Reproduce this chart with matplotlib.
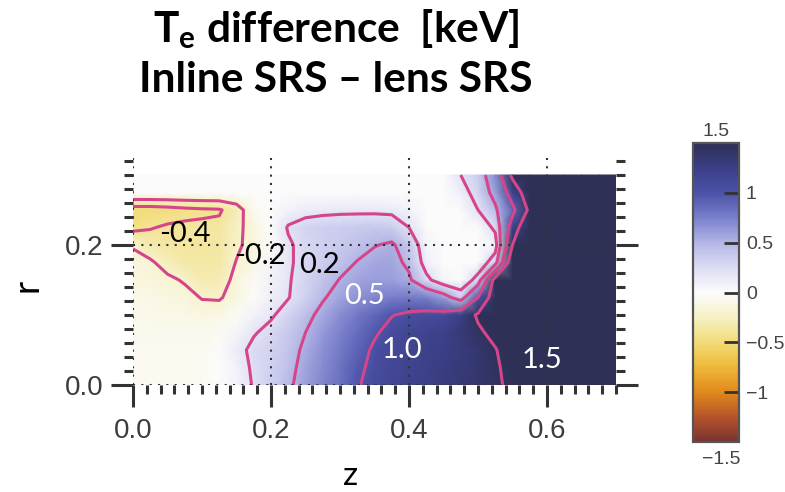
import numpy as np
import matplotlib.pyplot as plt
from matplotlib.colors import LinearSegmentedColormap, Normalize
from matplotlib.cm import ScalarMappable
from matplotlib.ticker import MultipleLocator, FormatStrFormatter

plt.rcParams['font.family'] = ['Liberation Sans', 'DejaVu Sans']
plt.rcParams['mathtext.fontset'] = 'custom'
plt.rcParams['mathtext.rm'] = 'Lato:bold'
plt.rcParams['mathtext.it'] = 'Lato:bold'
plt.rcParams['contour.negative_linestyle'] = 'solid'

# ---- mesh nodes ----
z_nodes = np.round(np.arange(0, 0.7001, 0.025), 3)   # 29 columns
r_nodes = np.round(np.arange(0, 0.3001, 0.025), 3)   # 13 rows

# ---- Te(inline) - Te(lens) [keV], one list per r row ----
te_r000 = [-0.05, -0.05, -0.05, -0.05, -0.04, -0.02, 0.06, 0.22, 0.33, 0.46, 0.60, 0.72, 0.83, 0.98, 1.08,
           1.14, 1.19, 1.24, 1.28, 1.33, 1.38, 1.44, 1.58, 1.80, 2.0, 2.0, 2.0, 2.0, 2.0]
te_r025 = [-0.05, -0.05, -0.05, -0.05, -0.04, -0.01, 0.08, 0.24, 0.32, 0.43, 0.58, 0.70, 0.81, 0.95, 1.06,
           1.13, 1.18, 1.23, 1.27, 1.32, 1.37, 1.45, 1.62, 1.85, 2.0, 2.0, 2.0, 2.0, 2.0]
te_r050 = [-0.05, -0.05, -0.05, -0.05, -0.05, 0.0, 0.12, 0.26, 0.31, 0.40, 0.55, 0.67, 0.78, 0.90, 1.04,
           1.12, 1.17, 1.21, 1.25, 1.30, 1.37, 1.48, 1.68, 1.90, 2.0, 2.0, 2.0, 2.0, 2.0]
te_r075 = [-0.06, -0.06, -0.07, -0.07, -0.07, -0.04, 0.05, 0.18, 0.27, 0.38, 0.50, 0.63, 0.74, 0.85, 0.97,
           1.08, 1.14, 1.18, 1.23, 1.32, 1.44, 1.60, 1.80, 1.95, 2.0, 2.0, 2.0, 2.0, 2.0]
te_r100 = [-0.08, -0.08, -0.10, -0.10, -0.12, -0.10, -0.03, 0.08, 0.17, 0.30, 0.44, 0.56, 0.68, 0.79, 0.88,
           0.99, 1.05, 1.08, 1.10, 1.25, 1.55, 1.80, 1.95, 2.0, 2.0, 2.0, 2.0, 2.0, 2.0]
te_r125 = [-0.10, -0.10, -0.12, -0.14, -0.21, -0.22, -0.12, -0.02, 0.10, 0.19, 0.32, 0.48, 0.58, 0.66, 0.72,
           0.76, 0.78, 0.75, 0.62, 0.35, 1.00, 1.80, 2.0, 2.0, 2.0, 2.0, 2.0, 2.0, 2.0]
te_r150 = [-0.12, -0.13, -0.16, -0.22, -0.32, -0.30, -0.14, -0.04, 0.08, 0.18, 0.30, 0.40, 0.51, 0.58, 0.62,
           0.60, 0.54, 0.26, 0.05, 0.0, 0.30, 1.70, 2.0, 2.0, 2.0, 2.0, 2.0, 2.0, 2.0]
te_r175 = [-0.13, -0.17, -0.28, -0.34, -0.35, -0.34, -0.19, -0.10, 0.05, 0.17, 0.27, 0.34, 0.42, 0.51, 0.57,
           0.58, 0.45, 0.10, 0.0, 0.0, 0.02, 0.35, 1.90, 2.0, 2.0, 2.0, 2.0, 2.0, 2.0]
te_r200 = [-0.22, -0.32, -0.36, -0.37, -0.37, -0.36, -0.24, -0.12, -0.02, 0.17, 0.27, 0.32, 0.37, 0.42, 0.49,
           0.53, 0.38, 0.05, 0.0, 0.0, 0.0, 0.08, 1.50, 2.0, 2.0, 2.0, 2.0, 2.0, 2.0]
te_r225 = [-0.45, -0.41, -0.38, -0.37, -0.37, -0.36, -0.25, -0.12, 0.0, 0.22, 0.30, 0.33, 0.35, 0.37, 0.38,
           0.36, 0.20, 0.02, 0.0, 0.0, 0.02, 0.25, 1.20, 2.0, 2.0, 2.0, 2.0, 2.0, 2.0]
te_r250 = [-0.50, -0.50, -0.48, -0.45, -0.43, -0.42, -0.30, -0.05, 0.0, 0.08, 0.12, 0.14, 0.15, 0.15, 0.15,
           0.14, 0.08, 0.0, 0.0, 0.02, 0.20, 0.45, 0.90, 1.60, 2.0, 2.0, 2.0, 2.0, 2.0]
te_r275 = [0.0, 0.0, 0.0, 0.0, 0.0, 0.0, 0.0, 0.0, 0.0, 0.0, 0.0, 0.0, 0.0, 0.0, 0.0,
           0.0, 0.0, 0.0, 0.0, 0.10, 0.30, 0.60, 1.20, 1.80, 2.0, 2.0, 2.0, 2.0, 2.0]
te_r300 = [0.0, 0.0, 0.0, 0.0, 0.0, 0.0, 0.0, 0.0, 0.0, 0.0, 0.0, 0.0, 0.0, 0.0, 0.0,
           0.0, 0.0, 0.0, 0.0, 0.20, 0.35, 0.70, 1.60, 2.0, 2.0, 2.0, 2.0, 2.0, 2.0]

te_diff = np.array([te_r000, te_r025, te_r050, te_r075, te_r100, te_r125, te_r150,
                    te_r175, te_r200, te_r225, te_r250, te_r275, te_r300])

# contour levels and where their labels sit (z, r)
levels = [-0.4, -0.2, 0.2, 0.5, 1.0, 1.5]
label_pos = [(0.075, 0.216), (0.184, 0.184), (0.27, 0.171), (0.335, 0.127), (0.39, 0.05), (0.593, 0.036)]
label_col = ['black', 'black', 'black', 'white', 'white', 'white']

cbar_ticks = [-1, -0.5, 0, 0.5, 1]
cbar_labels = ['\u22121', '\u22120.5', '0', '0.5', '1']

# diverging map: brown/orange/yellow -> white -> lavender/blue/navy
cmap = LinearSegmentedColormap.from_list('te', [
    (0.0, '#7a3232'), (1/12, '#b6542a'), (2/12, '#e08a1c'), (3/12, '#efb83a'),
    (4/12, '#f2dc78'), (5/12, '#f6f0c4'), (6/12, '#fcfcfc'), (7/12, '#dcdcf4'),
    (8/12, '#b4b6e6'), (9/12, '#7a80cc'), (10/12, '#4c52a8'), (11/12, '#3b3f86'),
    (1.0, '#2e3056')])
norm = Normalize(vmin=-1.5, vmax=1.5)

fig = plt.figure(figsize=(7.85, 4.92), dpi=100)
ax = fig.add_axes([133/785, 1 - 385/492, 483/785, 227.5/492])

Z, R = np.meshgrid(z_nodes, r_nodes)
ax.pcolormesh(Z, R, te_diff, shading='gouraud', cmap=cmap, norm=norm, zorder=1)
ax.contour(Z, R, te_diff, levels=levels, colors='#d6458a', linewidths=2.2, zorder=2)

for lev, (zp, rp), c in zip(levels, label_pos, label_col):
    ax.text(zp, rp, f"{lev:.1f}", color=c, fontsize=21, family='Lato',
            ha='center', va='center', zorder=4)

ax.set_xlim(0, 0.7)
ax.set_ylim(0, 0.325)
for s in ax.spines.values():
    s.set_visible(False)

ax.xaxis.set_major_locator(MultipleLocator(0.2))
ax.xaxis.set_minor_locator(MultipleLocator(0.02))
ax.yaxis.set_major_locator(MultipleLocator(0.2))
ax.yaxis.set_minor_locator(MultipleLocator(0.02))
ax.xaxis.set_major_formatter(FormatStrFormatter('%.1f'))
ax.yaxis.set_major_formatter(FormatStrFormatter('%.1f'))
ax.tick_params(which='both', direction='out', color='#333333', width=2.2,
               top=False, right=True, labelright=False)
ax.tick_params(which='major', length=15.5, labelsize=20, labelcolor='#3c3c3c')
ax.tick_params(which='minor', length=6.5)
ax.tick_params(axis='x', which='major', pad=8)
ax.tick_params(axis='y', which='major', pad=6)

ax.set_axisbelow(False)
ax.grid(True, which='major', color='#333333', linestyle=(0, (1, 3)), linewidth=1.5)

# colorbar
cax = fig.add_axes([693/785, 1 - 442/492, 46/785, 299/492])
cb = fig.colorbar(ScalarMappable(norm=norm, cmap=cmap), cax=cax, ticks=cbar_ticks)
cb.set_ticklabels(cbar_labels)
cb.outline.set_edgecolor('#555555')
cb.outline.set_linewidth(1.6)
cax.tick_params(direction='in', length=10.5, width=2, color='#333333',
                labelsize=14, labelcolor='#444444', pad=5)
fig.text(716/785, 1 - 131/492, '1.5', fontsize=14, color='#444444', ha='center', va='center')
fig.text(721/785, 1 - 460/492, '\u22121.5', fontsize=14, color='#444444', ha='center', va='center')

# titles and axis names
fig.text(336/785, 1 - 42/492, 'T$_\\mathrm{e}$ difference  [keV]', family='Lato',
         fontweight='bold', fontsize=30.5, ha='center', va='baseline')
fig.text(336/785, 1 - 92/492, 'Inline SRS \u2013 lens SRS', family='Lato',
         fontweight='bold', fontsize=30.5, ha='center', va='baseline')
fig.text(27/785, 1 - 285/492, 'r', family='Lato', fontsize=26, rotation=90,
         ha='center', va='center')
fig.text(351/785, 0.002, 'z', family='Lato', fontsize=24, ha='center', va='bottom')

fig.savefig('out.png', dpi=100)
